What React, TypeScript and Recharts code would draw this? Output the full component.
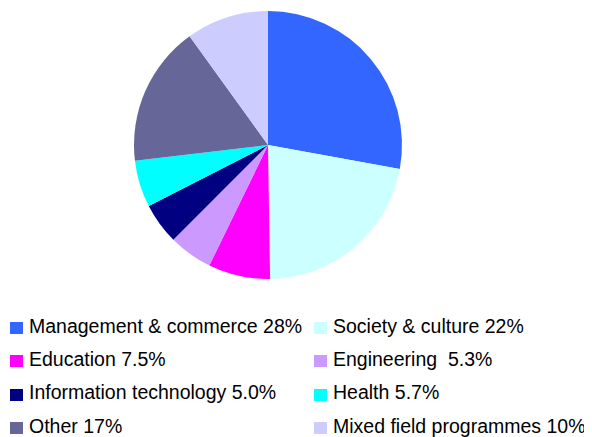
import React from "react";
import { PieChart, Pie, Cell, Legend } from "recharts";

const categories = [
  "Management & commerce",
  "Society & culture",
  "Education",
  "Engineering",
  "Information technology",
  "Health",
  "Other",
  "Mixed field programmes",
];
const shares = [28, 22, 7.5, 5.3, 5.0, 5.7, 17, 10];
const legendLabels = [
  "Management & commerce 28%",
  "Society & culture 22%",
  "Education 7.5%",
  "Engineering  5.3%",
  "Information technology 5.0%",
  "Health 5.7%",
  "Other 17%",
  "Mixed field programmes 10%",
];
const colors = [
  "#3366FF",
  "#CCFFFF",
  "#FF00FF",
  "#CC99FF",
  "#000080",
  "#00FFFF",
  "#666699",
  "#CCCCFF",
];

const data = categories.map((name, i) => ({ name, value: shares[i] }));

const W = 592;
const H = 437;

const LegendContent = () => {
  const colX = [2, 306];
  const rowTop = [307.5, 340.9, 374.3, 407.7];
  return (
    <div style={{ position: "absolute", left: 0, top: 0, width: W, height: H, pointerEvents: "none" }}>
      {legendLabels.map((label, i) => {
        const col = i % 2;
        const row = Math.floor(i / 2);
        return (
          <div
            key={label}
            style={{
              position: "absolute",
              left: colX[col],
              top: rowTop[row],
              height: 20,
              whiteSpace: "pre",
              fontFamily: "'Liberation Sans', Arial, sans-serif",
              fontSize: 19.5,
              lineHeight: "20px",
              color: "#000",
            }}
          >
            <span
              style={{
                position: "absolute",
                left: 0,
                top: 6.5,
                width: 13,
                height: 12,
                background: colors[i],
              }}
            />
            <span style={{ position: "absolute", left: 19, top: 0 }}>{label}</span>
          </div>
        );
      })}
    </div>
  );
};

export default function App() {
  return (
    <div style={{ position: "relative", width: W, height: H }}>
      <PieChart width={W} height={H} margin={{ top: 0, right: 0, bottom: 0, left: 0 }}>
        <Pie
          data={data}
          dataKey="value"
          nameKey="name"
          cx={260}
          cy={137}
          outerRadius={134}
          startAngle={90}
          endAngle={-270}
          stroke="none"
          isAnimationActive={false}
        >
          {data.map((d, i) => (
            <Cell key={d.name} fill={colors[i]} />
          ))}
        </Pie>
        <Legend
          content={<LegendContent />}
          wrapperStyle={{ position: "absolute", left: 0, top: 0, width: W, height: H }}
        />
      </PieChart>
    </div>
  );
}
